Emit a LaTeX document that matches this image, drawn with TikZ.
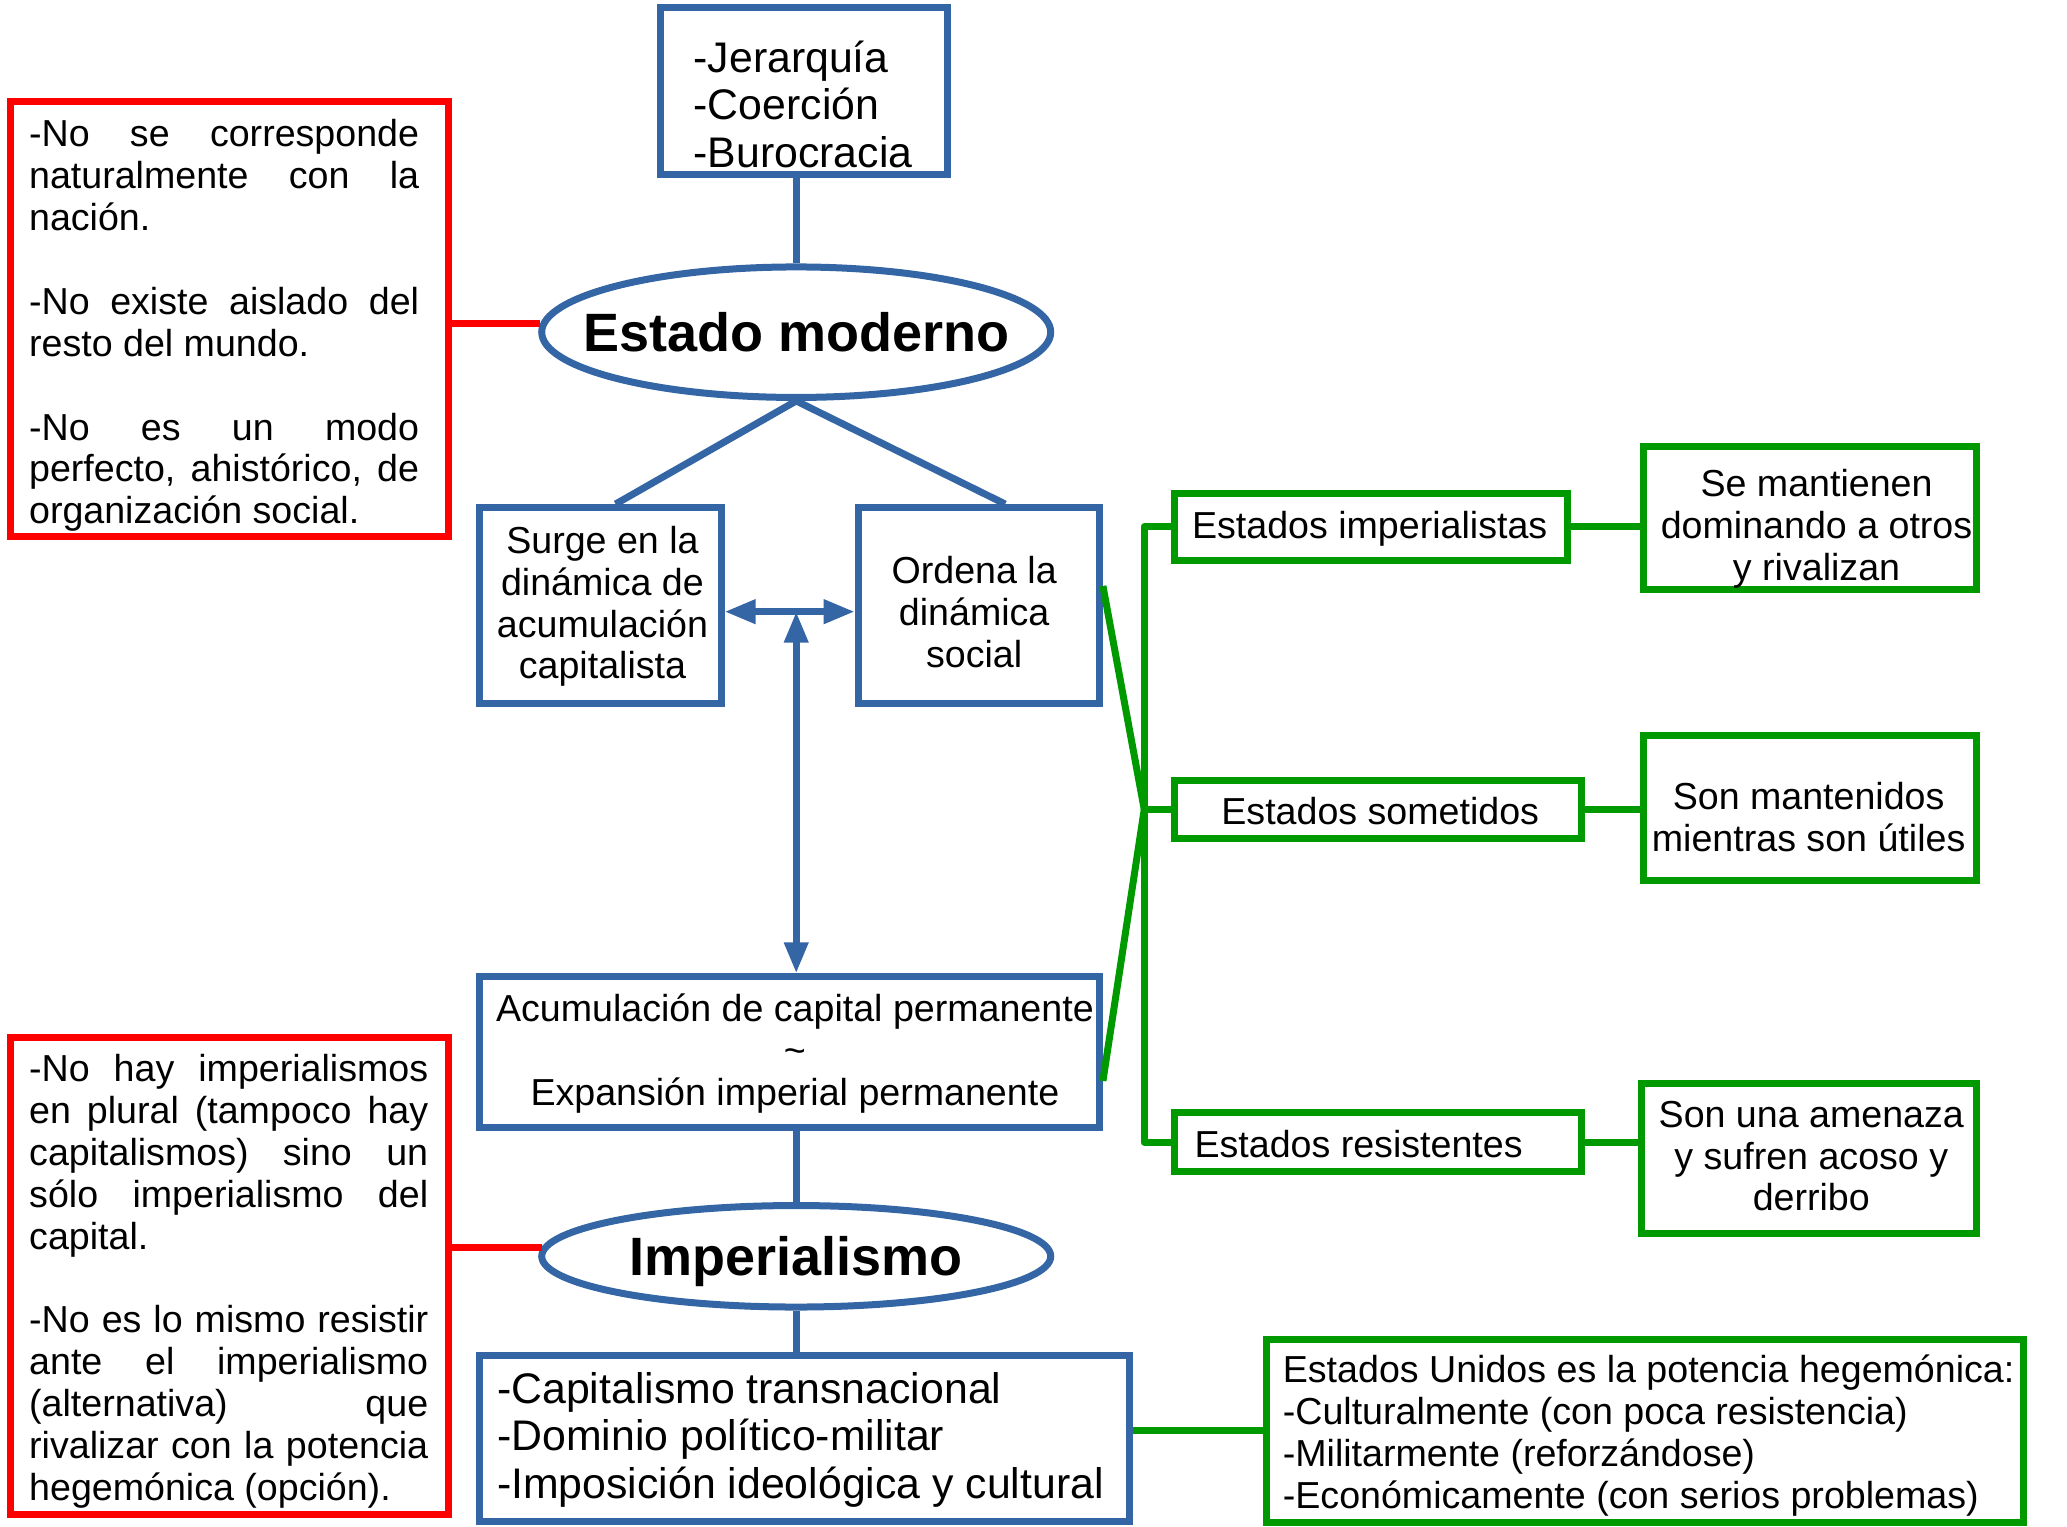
\documentclass[tikz,border=0pt]{standalone}
\usepackage{fontspec}
\setmainfont{Liberation Sans}
\usetikzlibrary{arrows.meta,fit,shapes.geometric,calc}
\definecolor{cblue}{HTML}{3465A4}
\definecolor{cgreen}{HTML}{009900}
\definecolor{cred}{HTML}{FF0000}
\newcommand{\jla}[1]{\makebox[390pt][s]{#1}}
\newcommand{\jlb}[1]{\makebox[399pt][s]{#1}}
\begin{document}
\begin{tikzpicture}[x=1.3182pt,y=-1.3182pt,
  box/.style={line width=7pt, inner sep=0pt},
  bbox/.style={box, draw=cblue},
  gbox/.style={box, draw=cgreen},
  rbox/.style={box, draw=cred},
  bline/.style={draw=cblue, line width=7pt},
  gline/.style={draw=cgreen, line width=7pt, line join=round},
  rline/.style={draw=cred, line width=7pt},
  txt/.style={inner sep=0pt, align=center, font=\fontsize{37.6}{41.9}\selectfont},
  ltxt/.style={inner sep=0pt, align=left, anchor=west, font=\fontsize{37.6}{41.9}\selectfont},
  bigtxt/.style={inner sep=0pt, align=left, anchor=west, font=\fontsize{42.8}{47.5}\selectfont},
  eltxt/.style={inner sep=0pt, font=\fontsize{54}{60}\selectfont\bfseries},
  ell/.style={draw=cblue, line width=7pt, ellipse, inner sep=0pt, minimum width=509pt},
  tip/.tip={Triangle[length=31pt,width=23pt]}
]
\useasboundingbox (0,0) rectangle (1568,1158);

% blue boxes
\node[bbox, fit={(501,6) (719,132)}] (top) {};
\node[bigtxt] (toptxt) at (526,79) {-Jerarquía\\-Coerción\\-Burocracia};
\node[ell, minimum height=130.5pt] (em) at (604,252) {};
\node[eltxt] (emtxt) at (em.center) {Estado moderno};
\node[bbox, fit={(364,385) (547,534)}] (surge) {};
\node[txt] (surgetxt) at (457,460) {Surge en la\\dinámica de\\acumulación\\capitalista};
\node[bbox, fit={(651,385) (834,534)}] (ordena) {};
\node[txt] (ordenatxt) at (739,464) {Ordena la\\dinámica\\social};
\node[bbox, fit={(364,741) (834,855)}] (acc) {};
\node[txt] (acctxt) at (603,799) {Acumulación de capital permanente\\\textasciitilde\\Expansión imperial permanente};
\node[ell, minimum height=101.5pt] (imp) at (604,953) {};
\node[eltxt] (imptxt) at ($(imp.center)+(0,4)$) {Imperialismo};
\node[bbox, fit={(364,1028) (857,1154)}] (cap) {};
\node[bigtxt] (captxt) at (377,1092) {-Capitalismo transnacional\\-Dominio político-militar\\-Imposición ideológica y cultural};

% red boxes
\node[rbox, fit={(8,77) (340,407)}] (red1) {};
\node[ltxt, anchor=center] (red1txt) at (170,247) {\jla{-No se corresponde}\\\jla{naturalmente con la}\\nación.\\[41.9pt]\jla{-No existe aislado del}\\resto del mundo.\\[41.9pt]\jla{-No es un modo}\\\jla{perfecto, ahistórico, de}\\organización social.};
\node[rbox, fit={(8,787) (340,1149)}] (red2) {};
\node[ltxt, anchor=center] (red2txt) at (173.5,972) {\jlb{-No hay imperialismos}\\\jlb{en plural (tampoco hay}\\\jlb{capitalismos) sino un}\\\jlb{sólo imperialismo del}\\capital.\\[41.9pt]\jlb{-No es lo mismo resistir}\\\jlb{ante el imperialismo}\\\jlb{(alternativa) que}\\\jlb{rivalizar con la potencia}\\hegemónica (opción).};

% green boxes
\node[gbox, fit={(891,374) (1189,425)}] (ei) {};
\node[txt] (eitxt) at (1039,401) {Estados imperialistas};
\node[gbox, fit={(891,592) (1200,636)}] (es) {};
\node[txt] (estxt) at (1047,615) {Estados sometidos};
\node[gbox, fit={(891,844) (1200,889)}] (er) {};
\node[ltxt] (ertxt) at (906,868) {Estados resistentes};
\node[gbox, fit={(1247,339) (1499,447)}] (sm) {};
\node[txt] (smtxt) at (1378,401) {Se mantienen\\dominando a otros\\y rivalizan};
\node[gbox, fit={(1247,558) (1499,668)}] (sn) {};
\node[txt] (sntxt) at (1372,620) {Son mantenidos\\mientras son útiles};
\node[gbox, fit={(1245,822) (1499,936)}] (sa) {};
\node[txt] (satxt) at (1374,877) {Son una amenaza\\y sufren acoso y\\derribo};
\node[gbox, fit={(961,1016) (1535,1155)}] (eu) {};
\node[ltxt] (eutxt) at (973,1089) {Estados Unidos es la potencia hegemónica:\\-Culturalmente (con poca resistencia)\\-Militarmente (reforzándose)\\-Económicamente (con serios problemas)};

% blue connectors
\draw[bline] (top.south -| em.north) -- (em.north);
\draw[bline] (em.south) -- ($(surge.north)+(11.5,0)$);
\draw[bline] (em.south) -- ($(ordena.north)+(20,0)$);
\coordinate (mid) at (604,464);
\draw[bline, tip-tip] (surge.east |- mid) -- (ordena.west |- mid);
\draw[bline, tip-tip] (mid) -- (mid |- acc.north);
\draw[bline] (imp.north |- acc.south) -- (imp.north);
\draw[bline] (imp.south) -- (imp.south |- cap.north);

% red connectors
\draw[rline] (em.178.2 -| red1.east) -- (em.178.2);
\draw[rline] (imp.178.6 -| red2.east) -- (imp.178.6);

% green connectors
\coordinate (tm) at (868,614);
\draw[gline] (ei.west) -| (tm |- er.west) -- (er.west);
\draw[gline] (tm) -- (es.west);
\draw[gline] ($(ordena.east)+(0,-15)$) -- (tm);
\draw[gline] ($(acc.east)+(0,22)$) -- (tm);
\draw[gline] (ei.east) -- (ei.east -| sm.west);
\draw[gline] (es.east) -- (es.east -| sn.west);
\draw[gline] (er.east) -- (er.east -| sa.west);
\draw[gline] (eu.west -| cap.east) -- (eu.west);
\end{tikzpicture}
\end{document}
